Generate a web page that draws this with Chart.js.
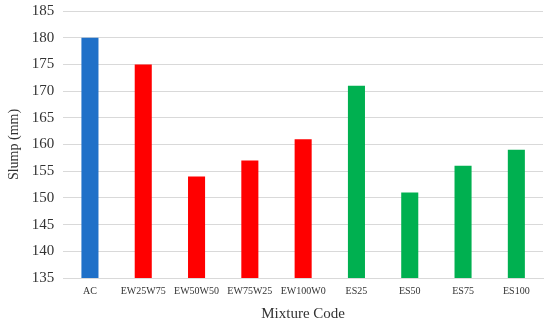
<!DOCTYPE html>
<html>
<head>
<meta charset="utf-8">
<script src="https://cdn.jsdelivr.net/npm/chart.js@4"></script>
<style>
  html, body { margin: 0; padding: 0; background: #fff; overflow: hidden; }
  #wrap { position: relative; top: -7px; width: 550px; height: 331px; }
</style>
</head>
<body>
<div id="wrap"><canvas id="slump"></canvas></div>
<script>
    "use strict";

    // Data
    var mixtures = ["AC", "EW25W75", "EW50W50", "EW75W25", "EW100W0", "ES25", "ES50", "ES75", "ES100"];
    var slump = [180, 175, 154, 157, 161, 171, 151, 156, 159];
    var barColors = ["#1F70C8", "#FF0000", "#FF0000", "#FF0000", "#FF0000", "#00B050", "#00B050", "#00B050", "#00B050"];
    var yMin = 135, yMax = 185, yStep = 5;

    var serif = "'Liberation Serif', 'Times New Roman', serif";
    var textColor = "#333333";

    var ctx = document.getElementById("slump").getContext("2d");
    var chart = new Chart(ctx, {
        type: "bar",
        data: {
            labels: mixtures,
            datasets: [{
                label: "Slump (mm)",
                data: slump,
                backgroundColor: barColors,
                categoryPercentage: 1,
                barPercentage: 0.32
            }]
        },
        options: {
            responsive: true,
            maintainAspectRatio: false,
            animation: false,
            layout: { padding: { top: 0, right: 7, left: 2, bottom: 1 } },
            plugins: {
                legend: { display: false },
                tooltip: { enabled: false }
            },
            scales: {
                x: {
                    grid: { display: false, drawTicks: false },
                    border: { color: "#d9d9d9" },
                    ticks: { color: textColor, font: { family: serif, size: 10 }, padding: 7, maxRotation: 0 },
                    title: { display: true, text: "Mixture Code", color: textColor, font: { family: serif, size: 15 }, padding: { top: 1, bottom: 0 } }
                },
                y: {
                    min: yMin,
                    max: yMax,
                    grid: { color: "#d9d9d9", drawTicks: false },
                    border: { display: false },
                    ticks: { stepSize: yStep, color: textColor, font: { family: serif, size: 15 }, padding: 9 },
                    title: { display: true, text: "Slump (mm)", color: textColor, font: { family: serif, size: 14 }, padding: { bottom: 0 } }
                }
            }
        }
    });
</script>
</body>
</html>
